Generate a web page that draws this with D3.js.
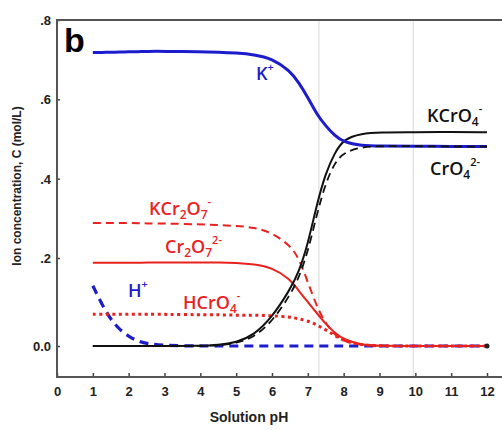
<!DOCTYPE html>
<html>
<head>
<meta charset="utf-8">
<script src="https://cdn.jsdelivr.net/npm/d3@7"></script>
<style>
  body { margin: 0; background: #fff; }
  svg text { font-family: "Liberation Sans", Arial, sans-serif; }
  .tick text { font-weight: bold; font-size: 13px; fill: #222; }
  .lbl { font-family: "Open Sans", "Liberation Sans", sans-serif; font-weight: 600; font-size: 18px; }
</style>
</head>
<body>
<div id="chart"></div>
<script>
// pH grid for all series
var phs = [1, 1.25, 1.5, 1.75, 2, 2.25, 2.5, 3, 4, 4.5, 5, 5.5, 6, 6.5, 6.75, 7, 7.25, 7.5, 7.75, 8, 8.5, 9, 10, 11, 12];

var kPlus   = [0.718, 0.718, 0.719, 0.719, 0.720, 0.720, 0.721, 0.721, 0.720, 0.719, 0.717, 0.713, 0.703, 0.672, 0.642, 0.605, 0.562, 0.533, 0.508, 0.492, 0.483, 0.482, 0.482, 0.481, 0.481];
var kcro4   = [0, 0, 0, 0, 0, 0, 0, 0, 0, 0.002, 0.008, 0.025, 0.065, 0.128, 0.168, 0.235, 0.335, 0.415, 0.465, 0.500, 0.514, 0.517, 0.517, 0.518, 0.517];
var cro4    = [0, 0, 0, 0, 0, 0, 0, 0, 0, 0.001, 0.006, 0.020, 0.055, 0.115, 0.155, 0.215, 0.310, 0.390, 0.440, 0.466, 0.480, 0.482, 0.482, 0.481, 0.481];
var kcr2o7  = [0.288, 0.288, 0.288, 0.288, 0.288, 0.288, 0.287, 0.287, 0.285, 0.283, 0.281, 0.277, 0.264, 0.232, 0.200, 0.145, 0.090, 0.050, 0.026, 0.010, 0.002, 0, 0, 0, 0];
var cr2o7   = [0.189, 0.189, 0.189, 0.189, 0.189, 0.189, 0.190, 0.190, 0.190, 0.190, 0.189, 0.186, 0.178, 0.153, 0.125, 0.100, 0.075, 0.050, 0.030, 0.015, 0.002, 0, 0, 0, 0];
var hcro4   = [0.072, 0.072, 0.072, 0.072, 0.072, 0.072, 0.072, 0.072, 0.071, 0.071, 0.070, 0.070, 0.069, 0.066, 0.062, 0.057, 0.048, 0.037, 0.024, 0.012, 0.002, 0, 0, 0, 0];
var hPlus   = [0.137, 0.095, 0.060, 0.037, 0.022, 0.011, 0.005, 0.001, 0, 0, 0, 0, 0, 0, 0, 0, 0, 0, 0, 0, 0, 0, 0, 0, 0];

var xTicks = [0, 1, 2, 3, 4, 5, 6, 7, 8, 9, 10, 11, 12];
var yTicks = [0, 0.2, 0.4, 0.6, 0.8];
var yTickLabels = ["0.0", ".2", ".4", ".6", ".8"];
var gridPH = [7.31, 9.94];

var width = 502, height = 430;

var svg = d3.select("#chart").append("svg")
    .attr("width", width)
    .attr("height", height);

var x = d3.scaleLinear().domain([0, 12]).range([57, 487]);
// the printed axis is not quite even below .2, so a piecewise scale
var y = d3.scaleLinear().domain([-0.0705, 0, 0.2, 0.8]).range([377, 346, 258, 20]);

var xRight = x(12.42);

// light vertical lines
svg.selectAll(".grid")
    .data(gridPH)
    .enter().append("line")
    .attr("class", "grid")
    .attr("x1", d => x(d)).attr("x2", d => x(d))
    .attr("y1", y(0.8)).attr("y2", y(-0.0705))
    .attr("stroke", "#d8d8d8")
    .attr("stroke-width", 1);

// axes with inward ticks
var xAxis = svg.append("g")
    .attr("transform", "translate(0," + y(-0.0705) + ")")
    .call(d3.axisBottom(x).tickValues(xTicks).tickSizeInner(-4).tickSizeOuter(0).tickPadding(10));
xAxis.select(".domain").remove();
xAxis.selectAll(".tick line").attr("stroke", "#444").attr("stroke-width", 1.5);

var yAxis = svg.append("g")
    .attr("transform", "translate(" + x(0) + ",0)")
    .call(d3.axisLeft(y).tickValues(yTicks).tickFormat((d, i) => yTickLabels[i]).tickSizeInner(-3).tickSizeOuter(0).tickPadding(6));
yAxis.select(".domain").remove();
yAxis.selectAll(".tick line").attr("stroke", "#444").attr("stroke-width", 1.5);
yAxis.selectAll(".tick text").attr("dy", "0.35em");

// frame
svg.append("path")
    .attr("d", "M" + xRight + "," + y(0.8) + "H" + x(0) + "V" + y(-0.0705) + "H" + xRight)
    .attr("fill", "none")
    .attr("stroke", "#555")
    .attr("stroke-width", 2);

// series, drawn bottom to top
var series = [
  {vals: hPlus,  color: "#1c1ccc", w: 3.2, dash: "9,6"},
  {vals: hcro4,  color: "#e8231f", w: 3,   dash: "3,3.5"},
  {vals: cr2o7,  color: "#e8231f", w: 2,   dash: null},
  {vals: kcr2o7, color: "#e8231f", w: 2,   dash: "8,5"},
  {vals: kcro4,  color: "#111",    w: 2,   dash: null},
  {vals: kPlus,  color: "#1c1ccc", w: 3,   dash: null},
  {vals: cro4,   color: "#111",    w: 1.8, dash: "8,5"}
];

var line = d3.line()
    .x(d => x(d[0]))
    .y(d => y(d[1]))
    .curve(d3.curveBasis);

svg.selectAll(".series")
    .data(series)
    .enter().append("path")
    .attr("class", "series")
    .attr("d", s => line(phs.map((p, i) => [p, s.vals[i]])))
    .attr("fill", "none")
    .attr("stroke", s => s.color)
    .attr("stroke-width", s => s.w)
    .attr("stroke-dasharray", s => s.dash);

// end dot on the right
svg.append("circle").attr("cx", x(12)).attr("cy", y(0)).attr("r", 2.5).attr("fill", "#222");

// panel letter
svg.append("text")
    .attr("x", 64).attr("y", 52)
    .style("font-size", "34px").style("font-weight", "bold")
    .style("font-family", "Liberation Sans, Arial, sans-serif")
    .text("b");

// species labels
function label(xp, yp, color, parts) {
  var t = svg.append("text").attr("class", "lbl").attr("x", xp).attr("y", yp).attr("fill", color);
  parts.forEach(function(p) {
    var ts = t.append("tspan").text(p[0]);
    if (p[1] === "sub") ts.attr("font-size", "12px").attr("dy", 4);
    else if (p[1] === "sup") ts.attr("font-size", "11px").attr("dy", -9);
    if (p[2]) ts.attr("dy", p[2]);
  });
  return t;
}

label(256, 80, "#1c1ccc", [["K"], ["+", "sup"]]);
label(128, 297, "#1c1ccc", [["H"], ["+", "sup"]]);
label(427, 122, "#111", [["KCrO"], ["4", "sub"], ["-", "sup", -13]]);
label(430, 175, "#111", [["CrO"], ["4", "sub"], ["2-", "sup", -13]]);
label(149, 215, "#e8231f", [["KCr"], ["2", "sub"], ["O", null, -4], ["7", "sub"], ["-", "sup", -13]]);
label(165, 253, "#e8231f", [["Cr"], ["2", "sub"], ["O", null, -4], ["7", "sub"], ["2-", "sup", -13]]);
label(183, 309, "#e8231f", [["HCrO"], ["4", "sub"], ["-", "sup", -13]]);

// axis titles
svg.append("text")
    .attr("transform", "translate(21," + 186 + ") rotate(-90)")
    .style("text-anchor", "middle")
    .style("font-size", "12px").style("font-weight", "bold").attr("fill", "#222")
    .text("Ion concentration, C (mol/L)");

svg.append("text")
    .attr("x", 249).attr("y", 422)
    .style("text-anchor", "middle")
    .style("font-size", "14px").style("font-weight", "bold").attr("fill", "#222")
    .text("Solution pH");
</script>
</body>
</html>
